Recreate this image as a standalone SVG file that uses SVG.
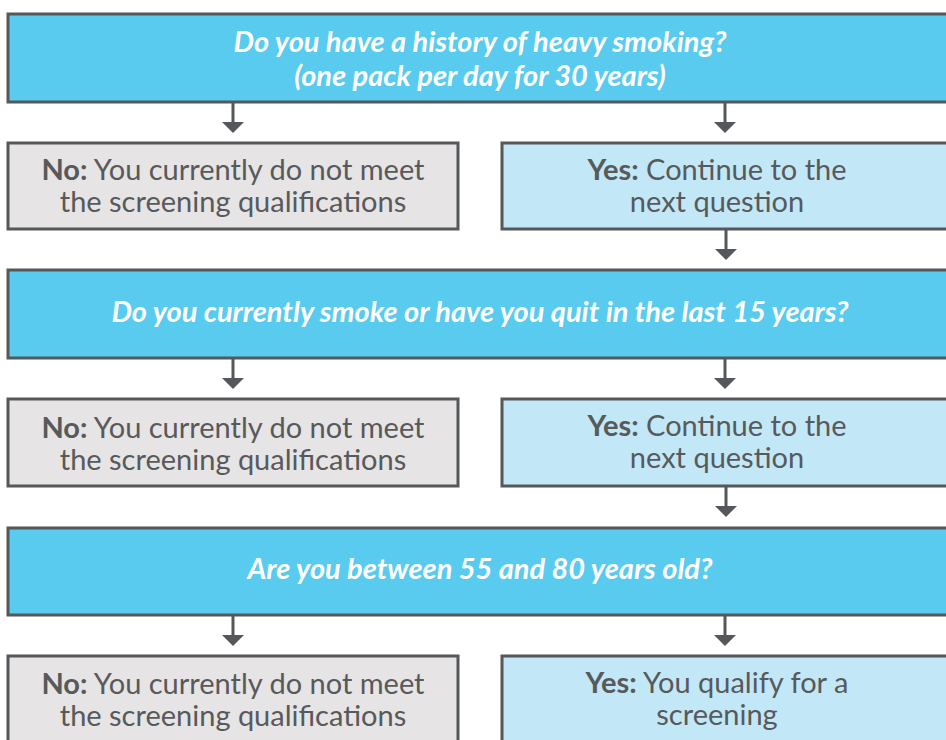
<svg xmlns="http://www.w3.org/2000/svg" width="946" height="740" viewBox="0 0 946 740">
<style>
.q rect{fill:#58CBEF;stroke:#55575A;stroke-width:3}
.no rect{fill:#E6E4E5;stroke:#55575A;stroke-width:3}
.yes rect{fill:#C2E7F7;stroke:#55575A;stroke-width:3}
.q text{font-family:Lato,"Open Sans",sans-serif;font-weight:bold;font-style:italic;font-size:29px;fill:#FFFFFF;text-anchor:middle}
.a text{font-family:Lato,"Open Sans",sans-serif;font-size:29px;fill:#58595B;text-anchor:middle}
.a tspan.b{font-weight:bold}
.conn line{stroke:#55575A;stroke-width:3;marker-end:url(#ah)}
</style>
<defs>
<marker id="ah" markerUnits="userSpaceOnUse" markerWidth="12" markerHeight="22" viewBox="0 0 12 22" refX="0" refY="11" orient="auto">
<path d="M0,0 L11,11 L0,22 Z" fill="#55575A"/>
</marker>
</defs>
<rect width="946" height="740" fill="#FFFFFF"/>
<g id="q1" class="q"><rect x="8" y="14" width="960" height="88"/><text x="480" y="52">Do you have a history of heavy smoking?</text><text x="480" y="86">(one pack per day for 30 years)</text></g>
<g id="no1" class="no a"><rect x="8" y="143" width="450" height="86"/><text x="233" y="180"><tspan class="b">No:</tspan> You currently do not meet</text><text x="233" y="212">the screening qualifications</text></g>
<g id="yes1" class="yes a"><rect x="502" y="143" width="460" height="86"/><text x="717" y="180"><tspan class="b">Yes:</tspan> Continue to the</text><text x="717" y="212">next question</text></g>
<g id="q2" class="q"><rect x="8" y="270" width="960" height="88"/><text x="480" y="322">Do you currently smoke or have you quit in the last 15 years?</text></g>
<g id="no2" class="no a"><rect x="8" y="399" width="450" height="87"/><text x="233" y="438"><tspan class="b">No:</tspan> You currently do not meet</text><text x="233" y="470">the screening qualifications</text></g>
<g id="yes2" class="yes a"><rect x="502" y="399" width="460" height="87"/><text x="717" y="436"><tspan class="b">Yes:</tspan> Continue to the</text><text x="717" y="468">next question</text></g>
<g id="q3" class="q"><rect x="8" y="528" width="960" height="87"/><text x="480" y="579">Are you between 55 and 80 years old?</text></g>
<g id="no3" class="no a"><rect x="8" y="656" width="450" height="100"/><text x="233" y="694"><tspan class="b">No:</tspan> You currently do not meet</text><text x="233" y="726">the screening qualifications</text></g>
<g id="yes3" class="yes a"><rect x="502" y="656" width="460" height="100"/><text x="717" y="693"><tspan class="b">Yes:</tspan> You qualify for a</text><text x="717" y="725">screening</text></g>
<g id="connectors" class="conn">
<line x1="233" y1="103" x2="233" y2="122"/>
<line x1="725" y1="103" x2="725" y2="122"/>
<line x1="726" y1="230" x2="726" y2="249"/>
<line x1="233" y1="359" x2="233" y2="378"/>
<line x1="725" y1="359" x2="725" y2="378"/>
<line x1="726" y1="487" x2="726" y2="506"/>
<line x1="233" y1="616" x2="233" y2="635"/>
<line x1="725" y1="616" x2="725" y2="635"/>
</g>
</svg>
